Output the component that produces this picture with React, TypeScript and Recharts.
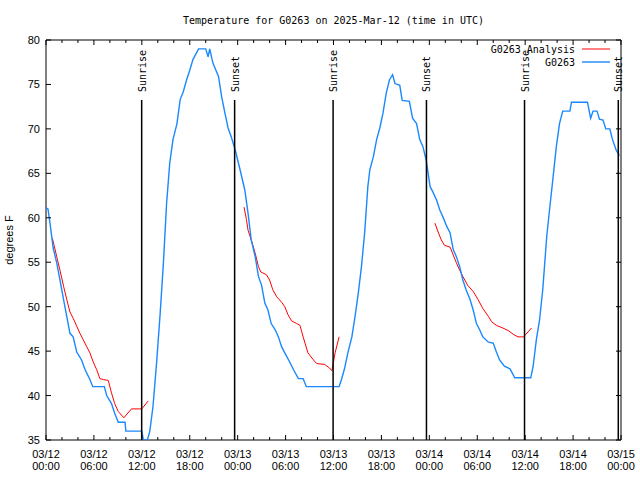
import React from 'react';
import { LineChart, Line, XAxis, YAxis, ReferenceLine, ReferenceArea } from 'recharts';

// Observed temperature G0263 (hours since 03/12 00:00 UTC, degrees F)
const obsHours = [
  0, 0.25, 0.5, 0.9, 1.35, 1.75, 2.2, 2.6, 3.0, 3.4, 3.85, 4.45, 4.9, 5.5, 5.85, 7.3, 7.6, 8.2, 8.6, 9.05,
  9.9, 10.0, 12.0, 12.2, 12.7, 13.0, 13.4, 13.85, 14.3, 14.7, 15.1, 15.5, 15.9, 16.4, 16.8, 17.2, 17.6, 18.0,
  18.4, 19.1, 20.0, 20.3, 20.5, 20.9, 21.6, 22.0, 22.4, 22.8, 23.2, 23.7, 24.3, 24.9, 25.3, 25.7, 26.2, 26.6,
  27.0, 27.4, 27.8, 28.2, 28.7, 29.1, 29.5, 29.9, 30.5, 31.0, 31.6, 32.2, 32.6, 36.7, 37.0, 37.4, 37.8, 38.3,
  38.7, 39.1, 39.5, 39.9, 40.3, 40.55, 41.0, 41.4, 41.8, 42.2, 42.6, 43.0, 43.4, 43.7, 44.3, 44.6, 45.5, 45.9,
  46.4, 46.8, 47.2, 47.6, 48.1, 48.5, 48.9, 49.3, 49.7, 50.2, 50.6, 51.0, 51.4, 51.8, 52.2, 52.6, 53.1, 53.5,
  53.9, 54.3, 54.7, 55.4, 56.0, 56.4, 56.8, 57.4, 58.1, 58.7, 60.7, 61.0, 61.4, 61.8, 62.2, 62.45, 62.7, 63.1,
  63.5, 63.9, 64.3, 64.7, 65.6, 65.8, 67.8, 68.2, 68.5, 69.0, 69.3, 69.75, 70.1, 70.6, 70.9, 71.4, 71.8,
];
const obsTemps = [
  61.1, 61.0, 59.4, 56.6, 54.9, 53.0, 50.8, 48.9, 47.0, 46.6, 44.9, 44.0, 42.9, 41.8, 41.0, 41.0, 40.0, 39.1, 38.0, 37.0,
  37.0, 36.0, 36.0, 35.0, 35.0, 36.0, 38.8, 43.7, 49.3, 54.9, 61.6, 66.2, 68.8, 70.6, 73.3, 74.2, 75.5, 76.6,
  77.8, 79.0, 79.0, 78.1, 79.0, 77.4, 75.9, 73.6, 71.8, 70.1, 69.1, 67.6, 65.4, 63.1, 60.5, 57.5, 55.6, 53.4,
  52.4, 50.4, 49.6, 48.1, 47.4, 46.6, 45.5, 44.8, 43.8, 42.9, 41.9, 41.9, 41.0, 41.0, 41.8, 43.1, 44.8, 46.6,
  48.9, 51.5, 54.5, 58.3, 63.5, 65.4, 66.9, 68.8, 70.1, 71.8, 74.0, 75.5, 76.1, 75.1, 74.9, 73.2, 73.1, 71.2,
  70.6, 68.8, 68.0, 66.5, 63.5, 62.8, 62.0, 60.9, 60.1, 59.0, 58.3, 56.4, 55.6, 54.5, 53.0, 51.9, 50.8, 49.6,
  48.1, 47.4, 46.6, 46.0, 45.9, 44.9, 44.0, 43.3, 43.0, 42.0, 42.0, 43.3, 46.3, 48.5, 51.9, 54.9, 57.9, 61.3,
  64.6, 68.0, 70.6, 72.0, 72.0, 73.0, 73.0, 71.2, 72.0, 72.0, 71.1, 71.0, 70.0, 70.0, 68.9, 67.6, 67.0,
];

// G0263 Analysis (null = gap between overnight segments)
const anaHours = [
  0.8, 1.35, 1.75, 2.2, 2.6, 3.0, 3.4, 3.85, 4.25, 4.65, 5.1, 5.5, 5.9, 6.35, 6.75, 7.2, 7.8, 8.2, 8.6, 9.05,
  9.75, 10.7, 12.0, 12.8,
  18,
  24.8, 25.1, 25.3, 25.7, 26.2, 26.6, 26.9, 27.6, 28.0, 28.4, 28.9, 29.5, 29.9, 30.3, 30.75, 31.4, 31.8, 32.2,
  32.8, 33.5, 33.9, 34.9, 35.5, 35.8, 36.2, 36.7,
  42,
  48.7, 49.1, 49.5, 49.9, 50.6, 51.0, 51.4, 51.8, 52.2, 52.8, 53.5, 54.1, 54.7, 55.4, 55.8, 56.4, 57.2, 57.9,
  58.5, 59.1, 59.8, 60.8,
];
const anaTemps = [
  57.7, 55.6, 54.1, 52.3, 50.8, 49.4, 48.7, 47.8, 47.0, 46.3, 45.5, 44.8, 43.8, 42.9, 41.9, 41.8, 41.7, 40.3, 39.1, 38.2,
  37.5, 38.5, 38.5, 39.4,
  null,
  61.2, 59.8, 58.6, 57.5, 56.0, 54.5, 53.9, 53.6, 53.0, 51.9, 51.1, 50.5, 50.0, 49.1, 48.4, 48.1, 47.9, 46.6,
  44.8, 44.0, 43.6, 43.5, 43.1, 42.8, 44.8, 46.6,
  null,
  59.4, 58.4, 57.5, 56.9, 56.7, 55.8, 54.9, 54.1, 53.4, 52.4, 51.7, 50.8, 49.8, 48.9, 48.3, 47.9, 47.6, 47.3,
  46.9, 46.6, 46.6, 47.6,
];

const sunriseHours = [11.98, 35.95, 59.92];
const sunsetHours = [23.62, 47.64, 71.66];

const xTickHours = [0, 2, 4, 6, 8, 10, 12, 14, 16, 18, 20, 22, 24, 26, 28, 30, 32, 34, 36, 38, 40, 42, 44, 46, 48, 50, 52, 54, 56, 58, 60, 62, 64, 66, 68, 70, 72];
const xLabelHours = [0, 6, 12, 18, 24, 30, 36, 42, 48, 54, 60, 66, 72];
const xLabelDates = ['03/12', '03/12', '03/12', '03/12', '03/13', '03/13', '03/13', '03/13', '03/14', '03/14', '03/14', '03/14', '03/15'];
const xLabelTimes = ['00:00', '06:00', '12:00', '18:00', '00:00', '06:00', '12:00', '18:00', '00:00', '06:00', '12:00', '18:00', '00:00'];
const yTicks = [35, 40, 45, 50, 55, 60, 65, 70, 75, 80];

const obsData = obsHours.map((h, i) => ({ h, t: obsTemps[i] }));
const anaData = anaHours.map((h, i) => ({ h, t: anaTemps[i] }));

const W = 640;
const H = 480;
const M = { top: 40, right: 19, bottom: 0, left: 6 };
const YW = 40;
const XH = 40;
const PLOT_H = H - M.top - M.bottom - XH;
const PLOT_W = W - M.left - M.right - YW;

const TICK_FONT = '"Liberation Sans", Arial, sans-serif';
const MONO_FONT = '"DejaVu Sans Mono", "Liberation Mono", monospace';

const XTick = (props: any) => {
  const { x, y, payload } = props;
  const v = payload.value;
  const idx = xLabelHours.indexOf(v);
  const len = idx >= 0 ? 5 : 3;
  return (
    <g>
      <line x1={x} x2={x} y1={y} y2={y - len} stroke="#000" strokeWidth={1} />
      <line x1={x} x2={x} y1={y - PLOT_H} y2={y - PLOT_H + len} stroke="#000" strokeWidth={1} />
      {idx >= 0 && (
        <text x={x} y={y + 18} textAnchor="middle" fontFamily={TICK_FONT} fontSize={11} fill="#000">
          {xLabelDates[idx]}
        </text>
      )}
      {idx >= 0 && (
        <text x={x} y={y + 30} textAnchor="middle" fontFamily={TICK_FONT} fontSize={11} fill="#000">
          {xLabelTimes[idx]}
        </text>
      )}
    </g>
  );
};

const YTick = (props: any) => {
  const { x, y, payload } = props;
  return (
    <g>
      <line x1={x} x2={x + 5} y1={y} y2={y} stroke="#000" strokeWidth={1} />
      <line x1={x + PLOT_W} x2={x + PLOT_W - 5} y1={y} y2={y} stroke="#000" strokeWidth={1} />
      <text x={x - 6} y={y + 4} textAnchor="end" fontFamily={TICK_FONT} fontSize={11} fill="#000">
        {payload.value}
      </text>
    </g>
  );
};

const eventLabel = (name: string) => (props: any) => {
  const vb = props.viewBox || {};
  const x = (vb.x ?? 0) + 4;
  const y = (vb.y ?? 0) - 8;
  return (
    <text x={x} y={y} transform={`rotate(-90 ${x} ${y})`} fontFamily={MONO_FONT} fontSize={10} fill="#000" textAnchor="start">
      {name}
    </text>
  );
};

const events = [
  ...sunriseHours.map((h) => ({ h, name: 'Sunrise' })),
  ...sunsetHours.map((h) => ({ h, name: 'Sunset' })),
];

export default function App() {
  return (
    <div style={{ position: 'relative', width: W, height: H, background: '#fff' }}>
      <style>{'body{margin:0;background:#fff}'}</style>
      <LineChart width={W} height={H} margin={M}>
        <XAxis
          dataKey="h"
          type="number"
          domain={[0, 72]}
          ticks={xTickHours}
          interval={0}
          height={XH}
          tickSize={0}
          tickMargin={0}
          axisLine={false}
          tickLine={false}
          tick={<XTick />}
          allowDataOverflow
        />
        <YAxis
          type="number"
          domain={[35, 80]}
          ticks={yTicks}
          interval={0}
          width={YW}
          tickSize={0}
          tickMargin={0}
          axisLine={false}
          tickLine={false}
          tick={<YTick />}
          allowDataOverflow
        />
        <Line data={anaData} dataKey="t" stroke="#ff0000" strokeWidth={1} dot={false} activeDot={false} connectNulls={false} isAnimationActive={false} />
        <Line data={obsData} dataKey="t" stroke="#1a88ff" strokeWidth={1.4} dot={false} activeDot={false} isAnimationActive={false} />
        {events.map((e, i) => (
          <ReferenceLine
            key={i}
            segment={[{ x: e.h, y: 35 }, { x: e.h, y: 73.25 }]}
            stroke="#000"
            strokeWidth={1.5}
            label={eventLabel(e.name)}
          />
        ))}
        <ReferenceArea x1={0} x2={72} y1={35} y2={80} fill="none" fillOpacity={0} stroke="#000" strokeWidth={1} />
      </LineChart>
      <svg width={W} height={H} style={{ position: 'absolute', left: 0, top: 0, pointerEvents: 'none' }}>
        <text x={333.5} y={24} textAnchor="middle" fontFamily={MONO_FONT} fontSize={10} fill="#000">
          Temperature for G0263 on 2025-Mar-12 (time in UTC)
        </text>
        <text x={13} y={240} transform="rotate(-90 13 240)" textAnchor="middle" fontFamily={TICK_FONT} fontSize={11} fill="#000">
          degrees F
        </text>
        <text x={575} y={53} textAnchor="end" fontFamily={MONO_FONT} fontSize={10} fill="#000">G0263 Analysis</text>
        <line x1={582} x2={610} y1={49} y2={49} stroke="#ff0000" strokeWidth={1} />
        <text x={575} y={66} textAnchor="end" fontFamily={MONO_FONT} fontSize={10} fill="#000">G0263</text>
        <line x1={582} x2={610} y1={62} y2={62} stroke="#1a88ff" strokeWidth={1.4} />
      </svg>
    </div>
  );
}
